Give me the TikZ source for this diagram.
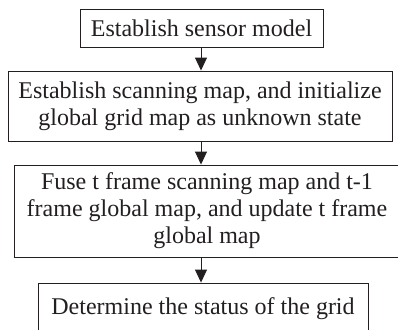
\documentclass[tikz,border=0pt]{standalone}
\usepackage{fontspec}
\setmainfont{Liberation Serif}
\usetikzlibrary{arrows.meta}
\definecolor{ink}{HTML}{231F20}
\begin{document}
\begin{tikzpicture}[x=1pt,y=-1pt,
  box/.style={draw=ink, line width=0.9pt, rectangle, inner sep=0pt, align=center,
    text=ink, font=\fontsize{24}{27}\selectfont},
  flow/.style={draw=ink, line width=0.9pt, -{Triangle[width=12pt,length=13pt]}}]
\path[use as bounding box, clip] (0,0) rectangle (398,329);
\node[box, minimum width=243pt, minimum height=38pt] (b1) at (201.5,28.5) {Establish sensor model};
\node[box, minimum width=384pt, minimum height=70pt] (b2) at (200,106) {Establish scanning map, and initialize\\global grid map as unknown state};
\node[box, minimum width=386pt, minimum height=92pt] (b3) at (207,211) {Fuse t frame scanning map and t-1\\frame global map, and update t frame\\global map};
\node[box, minimum width=330pt, minimum height=52pt] (b4) at (203,309) {Determine the status of the grid};
\coordinate (a1s) at (201,47.5);
\draw[flow] (b1.south -| a1s) -- (b2.north -| a1s);
\draw[flow] (b2.south -| a1s) -- (b3.north -| a1s);
\draw[flow] (b3.south -| a1s) -- (b4.north -| a1s);
\end{tikzpicture}
\end{document}
